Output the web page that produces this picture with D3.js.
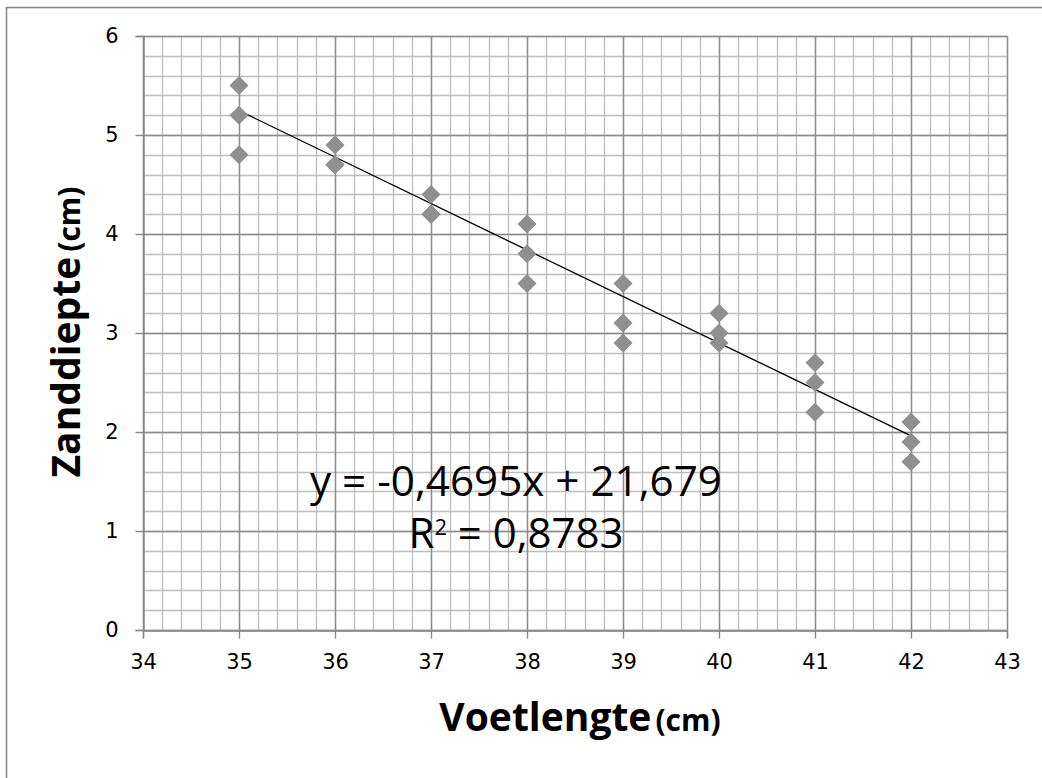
<!DOCTYPE html>
<html>
<head>
<meta charset="utf-8">
<script src="https://cdn.jsdelivr.net/npm/d3@7"></script>
<style>
  body { margin: 0; background: #fff; }
  svg { display: block; }
</style>
</head>
<body>
<svg id="chart"></svg>
<script>
// metingen: voetlengte (cm) en zanddiepte (cm)
const voetlengte = [35, 35, 35, 36, 36, 36, 37, 37, 37, 38, 38, 38, 39, 39, 39, 40, 40, 40, 41, 41, 41, 42, 42, 42];
const zanddiepte = [5.5, 5.2, 4.8, 4.9, 4.7, 4.7, 4.4, 4.2, 4.2, 4.1, 3.8, 3.5, 3.5, 3.1, 2.9, 3.2, 3.0, 2.9, 2.7, 2.5, 2.2, 2.1, 1.9, 1.7];
const xTicks = [34, 35, 36, 37, 38, 39, 40, 41, 42, 43];
const yTicks = [0, 1, 2, 3, 4, 5, 6];
const trend = { slope: -0.4695, intercept: 21.679, r2: '0,8783', from: 35, to: 42 };
const eqLine1 = 'y = -0,4695x + 21,679';

const width = 1042;
const height = 778;
const margin = { top: 36, right: 35, bottom: 148, left: 143 };

const x = d3.scaleLinear()
  .domain([34, 43])
  .range([margin.left, width - margin.right]);

const y = d3.scaleLinear()
  .domain([0, 6])
  .range([height - margin.bottom, margin.top]);

const svg = d3.select('#chart')
  .attr('width', width)
  .attr('height', height)
  .attr('viewBox', [0, 0, width, height]);

// chart border (right/bottom run off the picture)
svg.append('rect')
  .attr('x', 6.5).attr('y', 7.5)
  .attr('width', width + 20).attr('height', height + 20)
  .attr('fill', '#fff')
  .attr('stroke', '#8a8a8a')
  .attr('stroke-width', 1.6);

const minorX = d3.range(34, 43.001, 0.2);
const minorY = d3.range(0, 6.001, 0.2);

const grid = svg.append('g');
grid.selectAll('.mx')
  .data(minorX)
  .join('line')
  .attr('x1', d => Math.round(x(d)) + 0.5).attr('x2', d => Math.round(x(d)) + 0.5)
  .attr('y1', y(0)).attr('y2', y(6))
  .attr('stroke', '#bdbdbd').attr('stroke-width', 1.3);
grid.selectAll('.my')
  .data(minorY)
  .join('line')
  .attr('y1', d => Math.round(y(d)) + 0.5).attr('y2', d => Math.round(y(d)) + 0.5)
  .attr('x1', x(34)).attr('x2', x(43))
  .attr('stroke', '#bdbdbd').attr('stroke-width', 1.3);

// major gridlines
grid.selectAll('.Mx')
  .data(xTicks)
  .join('line')
  .attr('x1', d => Math.round(x(d)) + 0.5).attr('x2', d => Math.round(x(d)) + 0.5)
  .attr('y1', y(0)).attr('y2', y(6))
  .attr('stroke', '#8c8c8c').attr('stroke-width', 1.4);
grid.selectAll('.My')
  .data(yTicks)
  .join('line')
  .attr('y1', d => Math.round(y(d)) + 0.5).attr('y2', d => Math.round(y(d)) + 0.5)
  .attr('x1', x(34)).attr('x2', x(43))
  .attr('stroke', '#8c8c8c').attr('stroke-width', 1.4);

const xAxis = g => g
  .attr('transform', `translate(0,${y(0) + 0.5})`)
  .call(d3.axisBottom(x).tickValues(xTicks).tickSize(8).tickPadding(16).tickFormat(d3.format('d')))
  .call(g => g.selectAll('.domain, .tick line').attr('stroke', '#868686').attr('stroke-width', 1.4))
  .call(g => g.selectAll('.tick text')
    .attr('fill', '#000')
    .attr('font-family', 'DejaVu Sans')
    .attr('font-size', 21));

const yAxis = g => g
  .attr('transform', `translate(${x(34) + 0.5},0)`)
  .call(d3.axisLeft(y).tickValues(yTicks).tickSize(8).tickPadding(17).tickFormat(d3.format('d')))
  .call(g => g.selectAll('.domain, .tick line').attr('stroke', '#868686').attr('stroke-width', 1.4))
  .call(g => g.selectAll('.tick text')
    .attr('fill', '#000')
    .attr('font-family', 'DejaVu Sans')
    .attr('font-size', 21));

svg.append('g').call(xAxis);
svg.append('g').call(yAxis);

// trendline
svg.append('line')
  .attr('x1', x(trend.from)).attr('y1', y(trend.slope * trend.from + trend.intercept))
  .attr('x2', x(trend.to)).attr('y2', y(trend.slope * trend.to + trend.intercept))
  .attr('stroke', '#000').attr('stroke-width', 1.3);

// diamond markers
const r = 9.5;
svg.append('g')
  .selectAll('path')
  .data(voetlengte.map((v, i) => [v, zanddiepte[i]]))
  .join('path')
  .attr('transform', d => `translate(${x(d[0])},${y(d[1])})`)
  .attr('d', `M0,${-r}L${r},0L0,${r}L${-r},0Z`)
  .attr('fill', '#8f8f8f');

// equation
const eq = svg.append('g')
  .attr('font-family', 'Open Sans')
  .attr('fill', '#000')
  .attr('text-anchor', 'middle');
eq.append('text')
  .attr('x', 516).attr('y', 496)
  .attr('font-size', 42)
  .attr('textLength', 412)
  .attr('lengthAdjust', 'spacingAndGlyphs')
  .text(eqLine1);
const r2 = eq.append('text')
  .attr('x', 516).attr('y', 548)
  .attr('font-size', 42)
  .attr('textLength', 215)
  .attr('lengthAdjust', 'spacingAndGlyphs');
r2.append('tspan').text('R');
r2.append('tspan').attr('font-size', 22).attr('dy', -13).text('2');
r2.append('tspan').attr('dy', 13).text(` = ${trend.r2}`);

// axis titles
const xt = svg.append('text')
  .attr('x', 580).attr('y', 731)
  .attr('text-anchor', 'middle')
  .attr('font-family', 'Open Sans')
  .attr('font-weight', 'bold')
  .attr('fill', '#000');
xt.append('tspan').attr('font-size', 39).text('Voetlengte');
xt.append('tspan').attr('font-size', 30).attr('dx', 4).text('(cm)');

const yt = svg.append('text')
  .attr('transform', 'translate(80,332) rotate(-90)')
  .attr('text-anchor', 'middle')
  .attr('font-family', 'Open Sans')
  .attr('font-weight', 'bold')
  .attr('fill', '#000');
yt.append('tspan').attr('font-size', 39).text('Zanddiepte');
yt.append('tspan').attr('font-size', 30).attr('dx', 5).text('(cm)');
</script>
</body>
</html>
